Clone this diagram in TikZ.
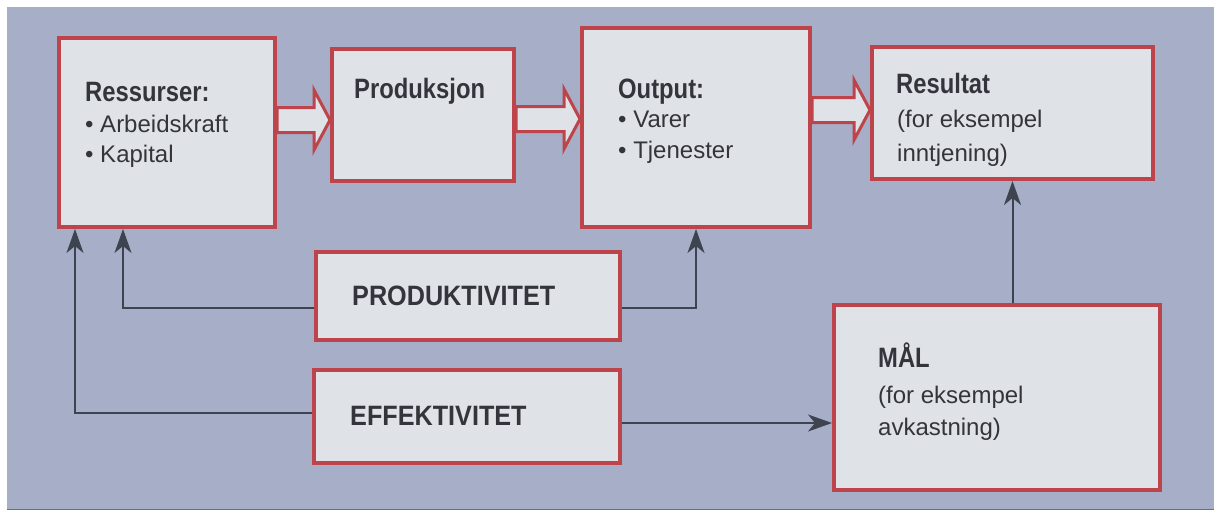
\documentclass[tikz,border=0pt]{standalone}
\usepackage{fontspec}
\setmainfont{Liberation Sans}
\newfontfamily\headfont{Liberation Sans}[FakeStretch=0.85]
\newfontfamily\capsfont{Liberation Sans}[FakeStretch=0.9]
\usetikzlibrary{calc,arrows.meta}
\definecolor{paper}{RGB}{167,174,199}
\definecolor{boxfill}{RGB}{223,226,231}
\definecolor{boxred}{RGB}{188,68,74}
\definecolor{ink}{RGB}{52,53,60}
\definecolor{linkgray}{RGB}{62,67,80}
\definecolor{edgegray}{RGB}{105,110,125}

% hollow block arrow from the east side of #1 to the west side of #2, centred on row #3
\newcommand{\fatarrow}[3]{%
  \draw[fat] (#1.east |- 0,#3-12.5)
    -- ($(#2.west |- 0,#3-12.5)+(-16,0)$)
    -- ($(#2.west |- 0,#3-30)+(-16,0)$)
    -- (#2.west |- 0,#3)
    -- ($(#2.west |- 0,#3+30)+(-16,0)$)
    -- ($(#2.west |- 0,#3+12.5)+(-16,0)$)
    -- (#1.east |- 0,#3+12.5) -- cycle;}

\begin{document}
\begin{tikzpicture}[x=1pt,y=-1pt,
  box/.style={draw=boxred, fill=boxfill, line width=4pt, inner sep=0pt},
  fat/.style={draw=boxred, fill=boxfill, line width=3pt, line join=miter},
  link/.style={draw=linkgray, line width=2pt, -{Stealth[length=24pt,width=17pt,inset=7pt]}},
  head/.style={font=\headfont\bfseries\fontsize{28}{30}\selectfont, text=ink, anchor=base west, inner sep=0pt},
  caps/.style={font=\capsfont\bfseries\fontsize{28}{30}\selectfont, text=ink, anchor=base west, inner sep=0pt},
  body/.style={font=\fontsize{24}{28}\selectfont, text=ink, anchor=base west, inner sep=0pt}]

\useasboundingbox (0,0) rectangle (1214,511);
% page and printed panel
\fill[white] (0,0) rectangle (1214,511);
\fill[paper] (7,7) rectangle (1214,509);
\draw[edgegray, line width=1.5pt] (7,509.5) -- (1214,509.5);

% boxes
\node[box, minimum width=216pt, minimum height=189pt] (res) at (167,132.5) {};
\node[box, minimum width=182pt, minimum height=132pt] (pro) at (423,115) {};
\node[box, minimum width=228pt, minimum height=199pt] (out) at (696,127.5) {};
\node[box, minimum width=281pt, minimum height=132pt] (rst) at (1012.5,113) {};
\node[box, minimum width=304pt, minimum height=88pt] (pk) at (468,296) {};
\node[box, minimum width=306pt, minimum height=93pt] (ef) at (467,416.5) {};
\node[box, minimum width=326pt, minimum height=185pt] (mal) at (997,397.5) {};

% block arrows along the main chain
\fatarrow{res}{pro}{120}
\fatarrow{pro}{out}{119}
\fatarrow{out}{rst}{110}

% texts
\node[head] (resT) at (85,101) {Ressurser:};
\node[body] (res1) at (85,132) {• Arbeidskraft};
\node[body] (res2) at (85,162) {• Kapital};
\node[head] (proT) at (354,98) {Produksjon};
\node[head] (outT) at (618,98) {Output:};
\node[body] (out1) at (618,127) {• Varer};
\node[body] (out2) at (618,158) {• Tjenester};
\node[head] (rstT) at (896,93) {Resultat};
\node[body] (rst1) at (897,127) {(for eksempel};
\node[body] (rst2) at (897,161) {inntjening)};
\node[caps] (pkT) at (352,305) {PRODUKTIVITET};
\node[caps] (efT) at (350,425) {EFFEKTIVITET};
\node[head] (malT) at (878,367) {MÅL};
\node[body] (mal1) at (878,403) {(for eksempel};
\node[body] (mal2) at (878,435) {avkastning)};

% feedback connectors
\coordinate (resA) at ($(res.south west)+(18,0)$);
\coordinate (resB) at ($(res.south west)+(66,0)$);
\draw[link] (pk.west |- 0,308) -| (resB);
\draw[link] (pk.east |- 0,308) -| (out.south);
\draw[link] (ef.west |- 0,413) -| (resA);
\draw[link] (ef.east |- 0,423) -- (mal.west |- 0,423);
\draw[link] (rst.south |- mal.north) -- (rst.south);
\end{tikzpicture}
\end{document}
